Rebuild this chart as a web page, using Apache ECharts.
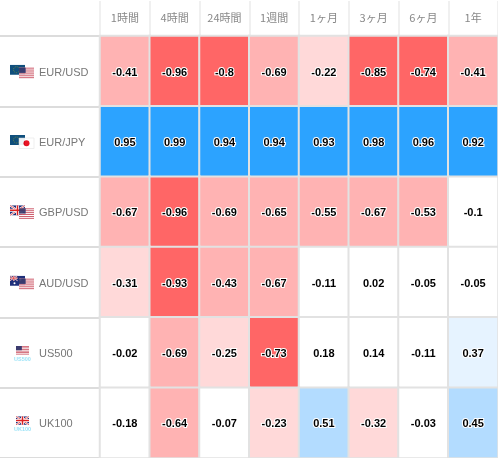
<!DOCTYPE html>
<html><head><meta charset="utf-8">
<style>html,body{margin:0;padding:0;background:#fff}#c{width:498px;height:458px}</style>
<script src="https://cdn.jsdelivr.net/npm/echarts@6/dist/echarts.min.js"></script>
</head><body><div id="c"></div>
<script>
const periods = ['1時間','4時間','24時間','1週間','1ヶ月','3ヶ月','6ヶ月','1年'];
const symbols = ['EUR/USD','EUR/JPY','GBP/USD','AUD/USD','US500','UK100'];
const eurUsd = ['-0.41','-0.96','-0.8','-0.69','-0.22','-0.85','-0.74','-0.41'];
const eurJpy = ['0.95','0.99','0.94','0.94','0.93','0.98','0.96','0.92'];
const gbpUsd = ['-0.67','-0.96','-0.69','-0.65','-0.55','-0.67','-0.53','-0.1'];
const audUsd = ['-0.31','-0.93','-0.43','-0.67','-0.11','0.02','-0.05','-0.05'];
const us500 = ['-0.02','-0.69','-0.25','-0.73','0.18','0.14','-0.11','0.37'];
const uk100 = ['-0.18','-0.64','-0.07','-0.23','0.51','-0.32','-0.03','0.45'];
const rows = [eurUsd, eurJpy, gbpUsd, audUsd, us500, uk100];

const usFlag = (x,y,w,h)=>{let s=`<rect x="${x}" y="${y}" width="${w}" height="${h}" fill="#fff"/>`;
  for(let i=0;i<6;i++)s+=`<rect x="${x}" y="${y+i*h/5.5}" width="${w}" height="${h/11}" fill="#c8485a"/>`;
  return s+`<rect x="${x}" y="${y}" width="${w*0.45}" height="${h*0.5}" fill="#3c3b6e"/>`;};
const ukFlag = (x,y,w,h)=>`<rect x="${x}" y="${y}" width="${w}" height="${h}" fill="#1f2f7a"/>
  <path d="M${x} ${y}L${x+w} ${y+h}M${x+w} ${y}L${x} ${y+h}" stroke="#fff" stroke-width="2"/>
  <path d="M${x} ${y}L${x+w} ${y+h}M${x+w} ${y}L${x} ${y+h}" stroke="#d22" stroke-width=".7"/>
  <path d="M${x+w/2} ${y}V${y+h}M${x} ${y+h/2}H${x+w}" stroke="#fff" stroke-width="3"/>
  <path d="M${x+w/2} ${y}V${y+h}M${x} ${y+h/2}H${x+w}" stroke="#d22" stroke-width="1.5"/>`;
const euFlag = (x,y,w,h)=>`<rect x="${x}" y="${y}" width="${w}" height="${h}" fill="#0f4f7d"/>
  <circle cx="${x+w/2-1}" cy="${y+h/2}" r="3" fill="none" stroke="#7d8f3a" stroke-width=".8" stroke-dasharray="1 1"/>`;
const jpFlag = (x,y,w,h)=>`<rect x="${x}" y="${y}" width="${w}" height="${h}" fill="#fff" stroke="#ddd" stroke-width=".5"/><circle cx="${x+w/2}" cy="${y+h/2}" r="3" fill="#e60012"/>`;
const auFlag = (x,y,w,h)=>`<rect x="${x}" y="${y}" width="${w}" height="${h}" fill="#1f2f7a"/>`+
  `<g transform="scale(.5)">${ukFlag(x*2,y*2,w,h)}</g><circle cx="${x+w*.7}" cy="${y+h*.4}" r="1" fill="#fff"/><circle cx="${x+w*.3}" cy="${y+h*.75}" r="1" fill="#fff"/>`;
const pair = (a,b)=>a(1,0,15,10)+`<g opacity=".92">${b(10,3,15,10.5)}</g>`;
const idx = (f,t)=>f(7,0,13,8.5)+`<text x="13.5" y="14.5" font-size="5.5" font-family="Arial" font-weight="bold" text-anchor="middle" fill="#9be3f7">${t}</text>`;
const svgs = [pair(euFlag,usFlag),pair(euFlag,jpFlag),pair(ukFlag,usFlag),pair(auFlag,usFlag),idx(usFlag,'US500'),idx(ukFlag,'UK100')];
const rich = {name:{color:'#777',fontSize:11,fontFamily:'Liberation Sans',padding:[0,0,0,4]}};
svgs.forEach((s,i)=>{
  rich['f'+i]={width:26,height:16,backgroundColor:{image:'data:image/svg+xml;charset=utf-8,'+encodeURIComponent(
    `<svg xmlns="http://www.w3.org/2000/svg" width="26" height="16" viewBox="0 0 26 16">${s}</svg>`)}};
});

const data = [];
rows.forEach((r,y)=>r.forEach((v,x)=>data.push([x,y,Number(v),v])));

const chart = echarts.init(document.getElementById('c'),null,{renderer:'canvas'});
chart.setOption({
  animation:false,
  grid:{left:100,right:0,top:36,bottom:0},
  xAxis:{type:'category',position:'top',data:periods,
    axisLine:{show:false},
    axisTick:{show:true,length:35,lineStyle:{color:'#f0f0f0',width:2}},
    axisLabel:{color:'#888',fontSize:11,margin:13,fontFamily:'"Noto Sans CJK JP","Liberation Sans"'},
    splitLine:{show:false}},
  yAxis:{type:'category',inverse:true,data:symbols,
    axisLine:{show:false},
    axisTick:{show:true,length:100,lineStyle:{color:'#dcdcdc',width:2}},
    axisLabel:{align:'left',margin:91,lineHeight:16,padding:[3,0,0,0],rich,
      formatter:(v)=>`{f${symbols.indexOf(v)}|}{name|${v}}`},
    splitLine:{show:false}},
  visualMap:{show:false,dimension:2,seriesIndex:0,type:'piecewise',pieces:[
    {max:-0.7,color:'#ff6666'},
    {min:-0.7,max:-0.4,color:'#ffb3b3'},
    {min:-0.4,max:-0.2,color:'#ffd9d9'},
    {min:-0.2,max:0.2,color:'#ffffff'},
    {min:0.2,max:0.4,color:'#e6f3ff'},
    {min:0.4,max:0.7,color:'#b3dcff'},
    {min:0.7,color:'#2ca3ff'}]},
  series:[{type:'heatmap',data,encode:{x:0,y:1},
    itemStyle:{borderColor:'#e2e2e2',borderWidth:2},
    emphasis:{disabled:true},
    label:{show:true,formatter:p=>p.data[3],color:'#000',fontWeight:'bold',fontSize:11,offset:[0,1.5],
      fontFamily:'Liberation Sans',textBorderColor:'#fff',textBorderWidth:2}}]
});
</script></body></html>
